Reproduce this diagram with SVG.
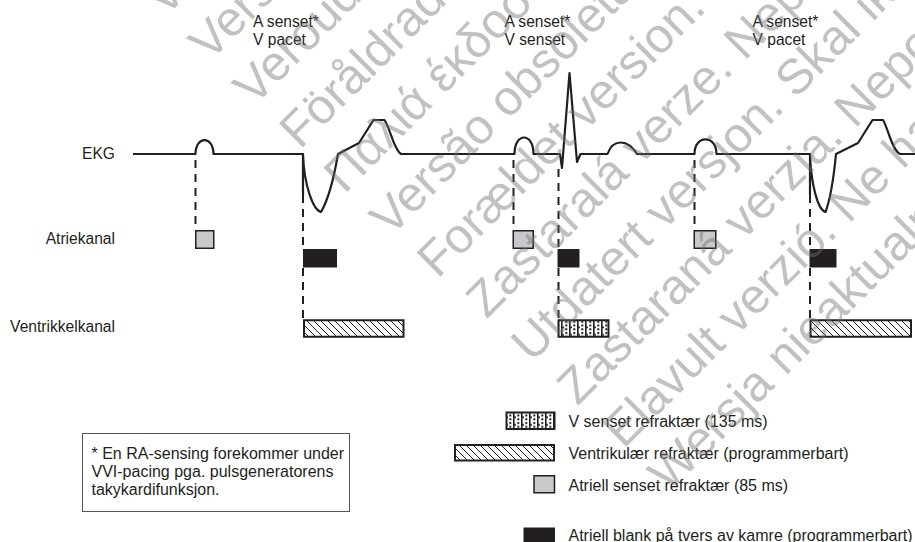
<svg xmlns="http://www.w3.org/2000/svg" width="915" height="542" viewBox="0 0 915 542">
<style>
.lbl{font-family:"Liberation Sans",Arial,sans-serif;font-size:15.6px;fill:#231f20}
.leg{font-family:"Liberation Sans",Arial,sans-serif;font-size:16px;fill:#231f20}
.ecg{fill:none;stroke:#231f20;stroke-width:2.2;stroke-linejoin:round}
.dash{stroke:#231f20;stroke-width:2;stroke-dasharray:8 6;fill:none}
.gray{fill:#c8c9cb;stroke:#231f20;stroke-width:1.5}
.blk{fill:#231f20}
.hat{fill:url(#hatch);stroke:#231f20;stroke-width:2}
.dot{fill:url(#dots);stroke:#231f20;stroke-width:2}
.wm{font-family:"Liberation Sans",Arial,sans-serif;font-size:49px;fill:#707070;fill-opacity:0.43}
</style>
<defs>
<pattern id="hatch" patternUnits="userSpaceOnUse" width="7" height="7">
<rect width="7" height="7" fill="#fff"/>
<path d="M-1,-1 L8,8 M-1,6 L1,8 M6,-1 L8,1" stroke="#231f20" stroke-width="1"/>
</pattern>
<pattern id="dots" patternUnits="userSpaceOnUse" x="1" y="1" width="8" height="7.5">
<rect width="8" height="7.5" fill="#fff"/>
<rect x="0" y="0" width="1.6" height="7.5" fill="#231f20"/>
<rect x="0" y="3" width="3" height="1.6" fill="#231f20"/>
<rect x="4.3" y="1" width="2" height="2" fill="#231f20"/>
<rect x="4.3" y="4.8" width="2" height="2" fill="#231f20"/>
</pattern>
</defs>
<rect width="915" height="542" fill="#fff"/>

<g id="row-labels">
<text class="lbl" x="115" y="158.5" text-anchor="end">EKG</text>
<text class="lbl" x="115" y="243.5" text-anchor="end">Atriekanal</text>
<text class="lbl" x="115" y="331.5" text-anchor="end">Ventrikkelkanal</text>
</g>

<g id="event-labels">
<text class="lbl" x="253" y="26.5">A senset*</text>
<text class="lbl" x="253" y="44.5">V pacet</text>
<text class="lbl" x="504.5" y="26.5">A senset*</text>
<text class="lbl" x="504.5" y="44.5">V senset</text>
<text class="lbl" x="752.5" y="26.5">A senset*</text>
<text class="lbl" x="752.5" y="44.5">V pacet</text>
</g>

<g id="ecg-trace">
<path class="ecg" d="M133,154 H195.5 C195.5,135.5 213.5,135.5 213.5,154 H303 V195 M303,154 C304,185 313,210 321,212 Q331,195 338,154 L359,143 L373.5,120 L384.5,120 C390,128 394,150 401,154 H514.5 C514.5,132 533.5,132 533.5,154 H560 L562,168 L569.5,73 L577,162 L580.5,154 H607.5 C611,144 616,142.5 621,142.5 C627,142.5 632,146 637,154 H694.5 C694.5,134.5 716.5,134.5 716.5,154 H810 V195 M810,154 C811,185 818,210 825.5,212 Q832,195 836,154 L858,143 L872.5,120 L883,120 C888,128 892,150 900,154 H915"/>
</g>

<g id="connectors">
<path class="dash" d="M195.5,160 V230 M303,195 V249 M303,268 V319 M513.5,160 V230 M558.5,169 V249 M558.5,268 V319 M694.5,160 V230 M810,195 V249 M810,268 V319"/>
</g>

<g id="beat1">
<rect class="gray" x="195.75" y="230.75" width="18" height="17.5"/>
<rect class="blk" x="303" y="249" width="34" height="18.5"/>
<rect class="hat" x="304" y="320.25" width="99.5" height="16.5"/>
</g>
<g id="beat2">
<rect class="gray" x="513.25" y="230.75" width="20" height="17.5"/>
<rect class="blk" x="557.5" y="249" width="22" height="18.5"/>
<rect class="dot" x="558.5" y="320.25" width="50" height="16.5"/>
</g>
<g id="beat3">
<rect class="gray" x="694.25" y="230.75" width="21.5" height="17.5"/>
</g>
<g id="beat4">
<rect class="blk" x="809.5" y="249" width="27" height="18.5"/>
<rect class="hat" x="810.5" y="320.25" width="100.5" height="16.5"/>
</g>

<g id="legend">
<g id="leg-vsense"><rect class="dot" x="506.5" y="412.5" width="48" height="16.5"/><text class="leg" x="568.5" y="426.5">V senset refraktær (135 ms)</text></g>
<g id="leg-vref"><rect class="hat" x="455" y="445" width="99" height="15.5"/><text class="leg" x="568.5" y="459">Ventrikulær refraktær (programmerbart)</text></g>
<g id="leg-aref"><rect class="gray" x="534" y="475.75" width="20.5" height="17"/><text class="leg" x="568.5" y="490.5">Atriell senset refraktær (85 ms)</text></g>
<g id="leg-ablank"><rect class="blk" x="523.5" y="527.5" width="31.5" height="15"/><text class="leg" x="568.5" y="540.5">Atriell blank på tvers av kamre (programmerbart)</text></g>
</g>

<g id="footnote">
<rect x="82.5" y="433.5" width="267" height="78" fill="none" stroke="#555" stroke-width="1"/>
<text class="leg" x="91.5" y="459">* En RA-sensing forekommer under</text>
<text class="leg" x="91.5" y="477">VVI-pacing pga. pulsgeneratorens</text>
<text class="leg" x="91.5" y="495">takykardifunksjon.</text>
</g>

<g id="watermark" transform="rotate(-45)">
<text class="wm" x="104" y="129.4">Versione obsoleta. Non utilizzare.</text>
<text class="wm" x="104" y="192.3">Versión obsoleta. No utilizar.</text>
<text class="wm" x="104" y="255.3">Verouderde versie. Niet gebruiken.</text>
<text class="wm" x="106" y="318.2">Föråldrad version. Använd ej.</text>
<text class="wm" x="106" y="381.1">Παλιά έκδοση. Μην την χρησιμοποιείτε.</text>
<text class="wm" x="108" y="444.1">Versão obsoleta. Não utilize.</text>
<text class="wm" x="112" y="507.0">Forældet version. Må ikke anvendes.</text>
<text class="wm" x="118" y="569.9">Zastaralá verze. Nepoužívat.</text>
<text class="wm" x="119" y="632.9">Utdatert versjon. Skal ikke brukes.</text>
<text class="wm" x="121" y="695.8">Zastaraná verzia. Nepoužívať.</text>
<text class="wm" x="123" y="758.7">Elavult verzió. Ne használja!</text>
<text class="wm" x="124" y="821.7">Wersja nieaktualna. Nie używać.</text>
</g>
</svg>
